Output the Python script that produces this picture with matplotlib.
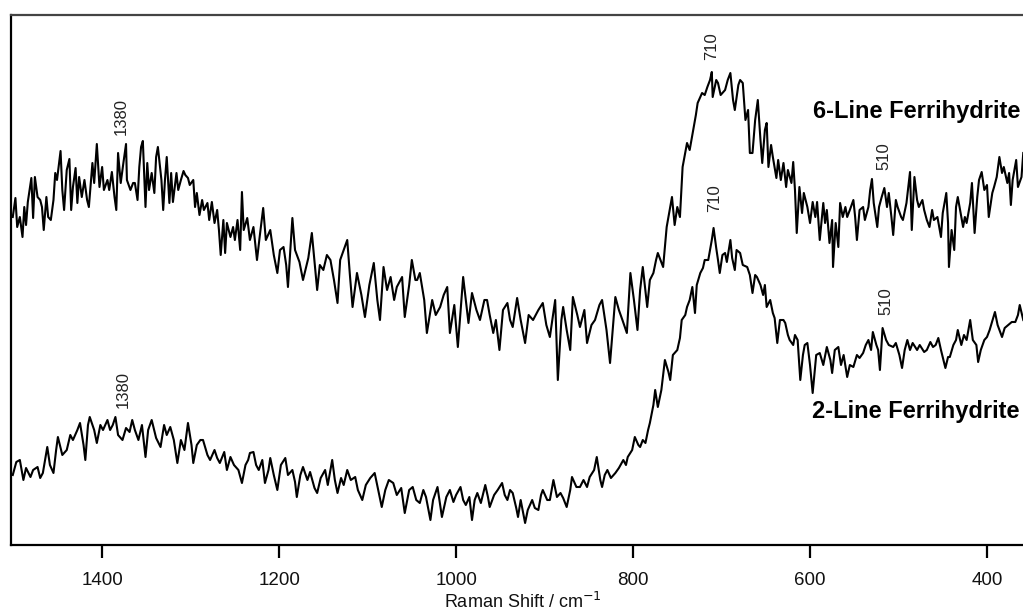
import numpy as np
import matplotlib
matplotlib.use("Agg")
import matplotlib.pyplot as plt

plt.rcParams['font.family'] = ['Liberation Sans', 'DejaVu Sans']

# ---- 6-Line Ferrihydrite spectrum: (Raman shift / cm-1, intensity a.u.) ----
spec_6line = [
    (1501, 328), (1498, 347), (1496, 318), (1493, 328), (1490, 308), (1488, 338), (1486, 320), (1484, 343),
    (1480, 367), (1478, 327), (1476, 368), (1473, 348), (1470, 345), (1468, 338), (1466, 315), (1463, 348),
    (1461, 328), (1458, 325), (1455, 345), (1453, 372), (1451, 365), (1447, 394), (1445, 355), (1443, 335),
    (1440, 375), (1437, 386), (1435, 335), (1433, 358), (1430, 377), (1428, 342), (1426, 368), (1423, 348),
    (1420, 365), (1417, 345), (1415, 338), (1411, 382), (1409, 362), (1406, 401), (1403, 358), (1400, 378),
    (1398, 355), (1394, 365), (1392, 355), (1389, 373), (1386, 348), (1384, 335), (1382, 392), (1379, 362),
    (1376, 382), (1373, 401), (1372, 365), (1368, 355), (1365, 362), (1363, 362), (1360, 345), (1358, 378),
    (1356, 398), (1354, 404), (1351, 338), (1349, 382), (1347, 355), (1344, 372), (1341, 352), (1339, 388),
    (1337, 398), (1333, 365), (1331, 335), (1329, 365), (1327, 388), (1324, 342), (1322, 372), (1320, 343),
    (1316, 372), (1314, 355), (1311, 365), (1308, 374), (1306, 370), (1303, 367), (1301, 360), (1297, 365),
    (1295, 338), (1293, 352), (1290, 330), (1287, 345), (1285, 335), (1281, 342), (1279, 325), (1276, 343),
    (1273, 322), (1270, 335), (1268, 315), (1266, 290), (1263, 325), (1261, 292), (1259, 322), (1255, 308),
    (1252, 318), (1250, 305), (1247, 325), (1244, 295), (1242, 353), (1240, 315), (1236, 327), (1233, 305),
    (1229, 318), (1227, 302), (1225, 285), (1222, 308),
    (1218, 337), (1215, 305), (1210, 315), (1206, 290), (1202, 272), (1199, 295), (1195, 298), (1192, 280),
    (1190, 258), (1185, 327), (1182, 295), (1177, 283), (1173, 265), (1167, 287), (1163, 312), (1157, 255),
    (1154, 280), (1150, 275), (1146, 290), (1142, 285), (1138, 265), (1134, 242), (1131, 285), (1127, 295),
    (1123, 305), (1120, 270), (1117, 238), (1112, 272), (1107, 250), (1103, 228), (1098, 260), (1093, 282),
    (1089, 245), (1086, 225), (1082, 278), (1078, 255), (1074, 268), (1070, 245), (1067, 258), (1061, 268),
    (1058, 228), (1053, 260), (1050, 285), (1046, 265), (1044, 265), (1041, 272), (1036, 245), (1033, 212),
    (1027, 245), (1023, 230), (1018, 238), (1014, 250), (1010, 258), (1007, 212), (1002, 240), (998, 198),
    (992, 268), (986, 222), (982, 252), (977, 235), (973, 225), (968, 245), (965, 245), (962, 230),
    (958, 212), (955, 225), (951, 195), (947, 235), (942, 242), (939, 225), (936, 218), (931, 247),
    (927, 225), (922, 202), (918, 230), (913, 225), (907, 235), (902, 242), (898, 220), (894, 208),
    (888, 245), (885, 165), (881, 225), (879, 238), (875, 215), (871, 195), (868, 248), (863, 230),
    (860, 218), (855, 235), (852, 202), (847, 220), (843, 225), (838, 240), (835, 245), (830, 215),
    (826, 182), (820, 248), (816, 235), (812, 225), (807, 212), (803, 272), (799, 245), (795, 215),
    (792, 255), (789, 278), (784, 238), (781, 265), (777, 272), (774, 285), (772, 292), (766, 278),
    (762, 318), (756, 348), (753, 320), (750, 338), (747, 328), (744, 378), (739, 402), (736, 395),
    (732, 415), (729, 430), (727, 442), (722, 452), (719, 450), (716, 458), (713, 465), (711, 473),
    (710, 448), (706, 465), (704, 462), (701, 450), (696, 455), (693, 465), (690, 472), (687, 445),
    (685, 435), (681, 460), (679, 465), (676, 462), (673, 425), (670, 435),
    (668, 392), (665, 392), (662, 425), (659, 445), (656, 405), (654, 382), (651, 415), (649, 422),
    (647, 378), (644, 400), (642, 388), (638, 367),
    (636, 385), (633, 365), (630, 382), (627, 358), (625, 375), (621, 362), (619, 383), (617, 355),
    (615, 312), (612, 358), (609, 332), (607, 352), (603, 338), (600, 322), (597, 343), (594, 328),
    (592, 343), (589, 305), (585, 342), (583, 322), (581, 335), (578, 302), (575, 325), (574, 278),
    (571, 322), (568, 298), (566, 342), (563, 328), (560, 338), (558, 328), (555, 335), (551, 345),
    (549, 328), (547, 305), (544, 335), (540, 338), (538, 325), (534, 338), (532, 355), (530, 366),
    (528, 342), (524, 318), (522, 338), (519, 348), (516, 357), (513, 338), (511, 352), (508, 328),
    (506, 310), (503, 345), (501, 338), (497, 328), (495, 325), (491, 342), (489, 358), (487, 373),
    (485, 315), (482, 368), (479, 345), (477, 338), (473, 345), (471, 335), (468, 325), (465, 318),
    (462, 335), (460, 325), (456, 328), (454, 318), (452, 308), (450, 332), (446, 352), (444, 322),
    (443, 278), (440, 315), (437, 295), (435, 338), (433, 348), (429, 328), (427, 318), (425, 328),
    (423, 322), (419, 342), (417, 362), (414, 312), (411, 348), (409, 365), (406, 373), (403, 355),
    (400, 360), (398, 328), (394, 352), (392, 358), (389, 368), (386, 388), (383, 372), (381, 378),
    (377, 362), (375, 372), (373, 340), (371, 365), (367, 385), (365, 358), (361, 368), (359, 392),
]

# ---- 2-Line Ferrihydrite spectrum ----
wn_2line = [1501, 1497, 1493, 1489, 1486, 1481, 1478, 1473, 1470, 1467, 1462, 1459, 1455, 1452, 1450, 1445,
            1440, 1436, 1433, 1428, 1425, 1421, 1419, 1416, 1414, 1409, 1406, 1402, 1399, 1394, 1391, 1388,
            1385, 1382, 1377, 1373, 1369, 1366, 1363, 1359, 1355, 1351, 1348, 1344, 1339, 1334, 1330, 1327,
            1323, 1319, 1315, 1311, 1307, 1303, 1299, 1297, 1293, 1289, 1286, 1281, 1278, 1273, 1270, 1267,
            1262, 1259, 1255, 1251, 1246, 1242, 1238, 1235, 1233, 1229, 1226, 1223, 1219, 1216, 1212, 1210,
            1206, 1202, 1198, 1193, 1190, 1185, 1182, 1180, 1176, 1173, 1168, 1165, 1160, 1157, 1153, 1148,
            1145, 1140, 1137, 1134, 1130, 1127, 1123, 1119, 1114, 1111, 1106, 1102, 1097, 1092, 1088, 1084,
            1080, 1076, 1071, 1067, 1062, 1058, 1053, 1049, 1045, 1041, 1037, 1034, 1029, 1026, 1021, 1018,
            1016, 1011, 1007, 1003, 1000, 995, 992, 989, 985, 982, 979, 976, 972, 967, 964, 962,
            957, 953, 948, 945, 942, 939, 936, 932, 930, 927, 922, 919, 914, 911, 907, 904,
            902, 897, 894, 890, 886, 882, 879, 875, 871, 869, 864, 860, 856, 852, 849, 844,
            841, 837, 835, 832, 829, 825, 820, 816, 811, 808, 806, 801, 798, 794, 792, 789,
            786, 783, 781, 777, 775, 772, 768, 764, 760, 758, 755, 750, 747, 745, 741, 739,
            736, 733, 730, 728, 724, 721, 719, 715, 713, 711, 709, 706, 704, 702, 699, 696,
            694, 690, 688, 685, 683, 679, 676, 671, 668, 665, 662, 660, 656, 653, 651, 649,
            645, 642, 640, 637, 634, 630, 628, 625, 623, 619, 617, 614, 611, 608, 606, 603,
            600, 597, 593, 589, 585, 581, 577, 575, 572, 568, 565, 562, 558, 555, 551, 547,
            544, 540, 537, 534, 531, 529, 525, 523, 521, 518, 514, 511, 506, 503, 499, 496,
            493, 490, 487, 484, 479, 476, 471, 468, 464, 461, 458, 455, 452, 447, 444, 442,
            438, 435, 433, 429, 426, 423, 419, 416, 412, 410, 407, 403, 400, 397, 393, 391,
            388, 383, 380, 376, 372, 368, 365, 363, 359]
int_2line = [70, 83, 85, 65, 77, 68, 75, 78, 67, 72, 98, 80, 72, 95, 108, 90,
             95, 110, 105, 115, 122, 100, 85, 120, 128, 115, 102, 120, 115, 125, 115, 120,
             128, 110, 105, 117, 113, 125, 115, 105, 120, 88, 115, 125, 107, 98, 120, 110,
             118, 105, 82, 105, 95, 122, 100, 82, 100, 105, 105, 90, 85, 95, 87, 82,
             93, 75, 88, 80, 75, 62, 80, 85, 92, 93, 80, 75, 85, 62, 75, 87,
             70, 55, 80, 87, 70, 75, 63, 48, 70, 78, 65, 73, 57, 52, 67, 75,
             60, 85, 65, 52, 67, 60, 75, 65, 68, 55, 45, 60, 67, 72, 55, 38,
             55, 65, 62, 50, 57, 32, 55, 58, 45, 42, 55, 48, 25, 45, 58, 40,
             28, 48, 55, 43, 50, 58, 45, 40, 48, 25, 45, 52, 42, 60, 48, 38,
             50, 55, 62, 50, 45, 55, 52, 37, 28, 45, 22, 35, 45, 37, 35, 50,
             55, 45, 45, 65, 48, 52, 47, 38, 55, 68, 58, 58, 65, 58, 68, 75,
             88, 65, 58, 70, 75, 67, 72, 77, 85, 80, 88, 95, 108, 100, 98, 105,
             102, 115, 122, 140, 155, 138, 155, 185, 173, 165, 190, 195, 207, 225, 230, 238,
             245, 258, 232, 260, 272, 277, 285, 285, 295, 305, 317, 297, 285, 272, 290, 292,
             283, 305, 287, 275, 295, 292, 280, 278, 270, 252, 270, 268, 260, 250, 260, 238,
             245, 232, 227, 202, 225, 225, 222, 210, 205, 200, 210, 205, 165, 190, 200, 202,
             180, 152, 190, 192, 180, 198, 185, 172, 195, 198, 180, 190, 168, 180, 178, 190,
             187, 192, 200, 205, 195, 213, 200, 195, 175, 217, 205, 200, 198, 202, 190, 177,
             195, 205, 195, 202, 195, 200, 193, 195, 203, 198, 200, 207, 195, 177, 188, 188,
             200, 205, 215, 200, 210, 205, 225, 205, 200, 183, 195, 205, 208, 215, 227, 233,
             220, 208, 217, 220, 223, 223, 230, 240, 225]

# ---- peak annotations ----
peak_text = ["1380", "710", "510", "1380", "710", "510"]
peak_x = [1378, 711, 516, 1376, 708, 514]
peak_y = [410, 485, 375, 137, 333, 230]

series_names = ["6-Line Ferrihydrite", "2-Line Ferrihydrite"]
x_ticks = [1400, 1200, 1000, 800, 600, 400]

wn_6line = [p[0] for p in spec_6line]
int_6line = [p[1] for p in spec_6line]

fig = plt.figure(figsize=(10.23, 6.14), dpi=100)
ax = fig.add_axes([11 / 1023, 69 / 614, 1 - 11 / 1023, 530 / 614])

ax.plot(wn_6line, int_6line, color='black', lw=1.5)
ax.plot(wn_2line, int_2line, color='black', lw=1.5)

ax.set_xlim(1503, 359.3)
ax.set_ylim(0, 530)
ax.set_yticks([])
ax.set_xticks(x_ticks)
ax.set_xticklabels([str(t) for t in x_ticks], fontsize=13.5, color='#111111')
ax.tick_params(axis='x', direction='out', length=9, width=1.6, pad=10.5, color='black')

for side in ['left', 'bottom', 'top']:
    ax.spines[side].set_linewidth(1.6)
ax.spines['top'].set_color('#444444')
ax.spines['right'].set_visible(False)

ax.set_xlabel("Raman Shift / cm$^{-1}$", fontsize=13, labelpad=2, color='#111111')
ax.xaxis.label.set_x(0.506)

for t, x, y in zip(peak_text, peak_x, peak_y):
    ax.text(x, y, t, rotation=90, ha='center', va='bottom', fontsize=12, color='#222222')

ax.text(0.997, 0.817, series_names[0], transform=ax.transAxes, ha='right', va='center',
        fontsize=17, fontweight='bold', color='black')
ax.text(0.997, 0.251, series_names[1], transform=ax.transAxes, ha='right', va='center',
        fontsize=17, fontweight='bold', color='black')

fig.savefig("out.png", dpi=100)
